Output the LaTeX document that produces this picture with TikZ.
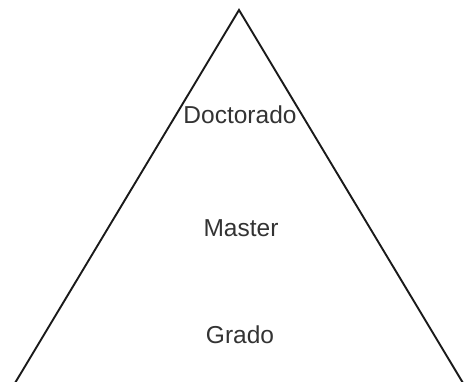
\documentclass[tikz,border=0pt]{standalone}
\usepackage{fontspec}
\setmainfont{Liberation Sans}
\usepackage{xcolor}
\usetikzlibrary{positioning}
\definecolor{ink}{HTML}{1A1A1A}
\definecolor{label}{HTML}{333333}

\begin{document}
\begin{tikzpicture}[
  x=1pt,y=1pt,
  level/.style={text=label,anchor=base,inner sep=0pt,font=\fontsize{24.5}{29}\selectfont},
  side/.style={draw=ink,line width=1.9pt,line cap=round,line join=miter}
]
\useasboundingbox (0,0) rectangle (468,381);
\coordinate (top) at (239,371);
\coordinate (left) at (15,-2);
\coordinate (right) at (463,-2);
\node[level] (doc) at (240,258) {Doctorado};
\node[level] (master) at (241,145) {Master};
\node[level] (grado) at (240,38) {Grado};
\draw[side] (left) -- (top) -- (right);
\end{tikzpicture}
\end{document}
